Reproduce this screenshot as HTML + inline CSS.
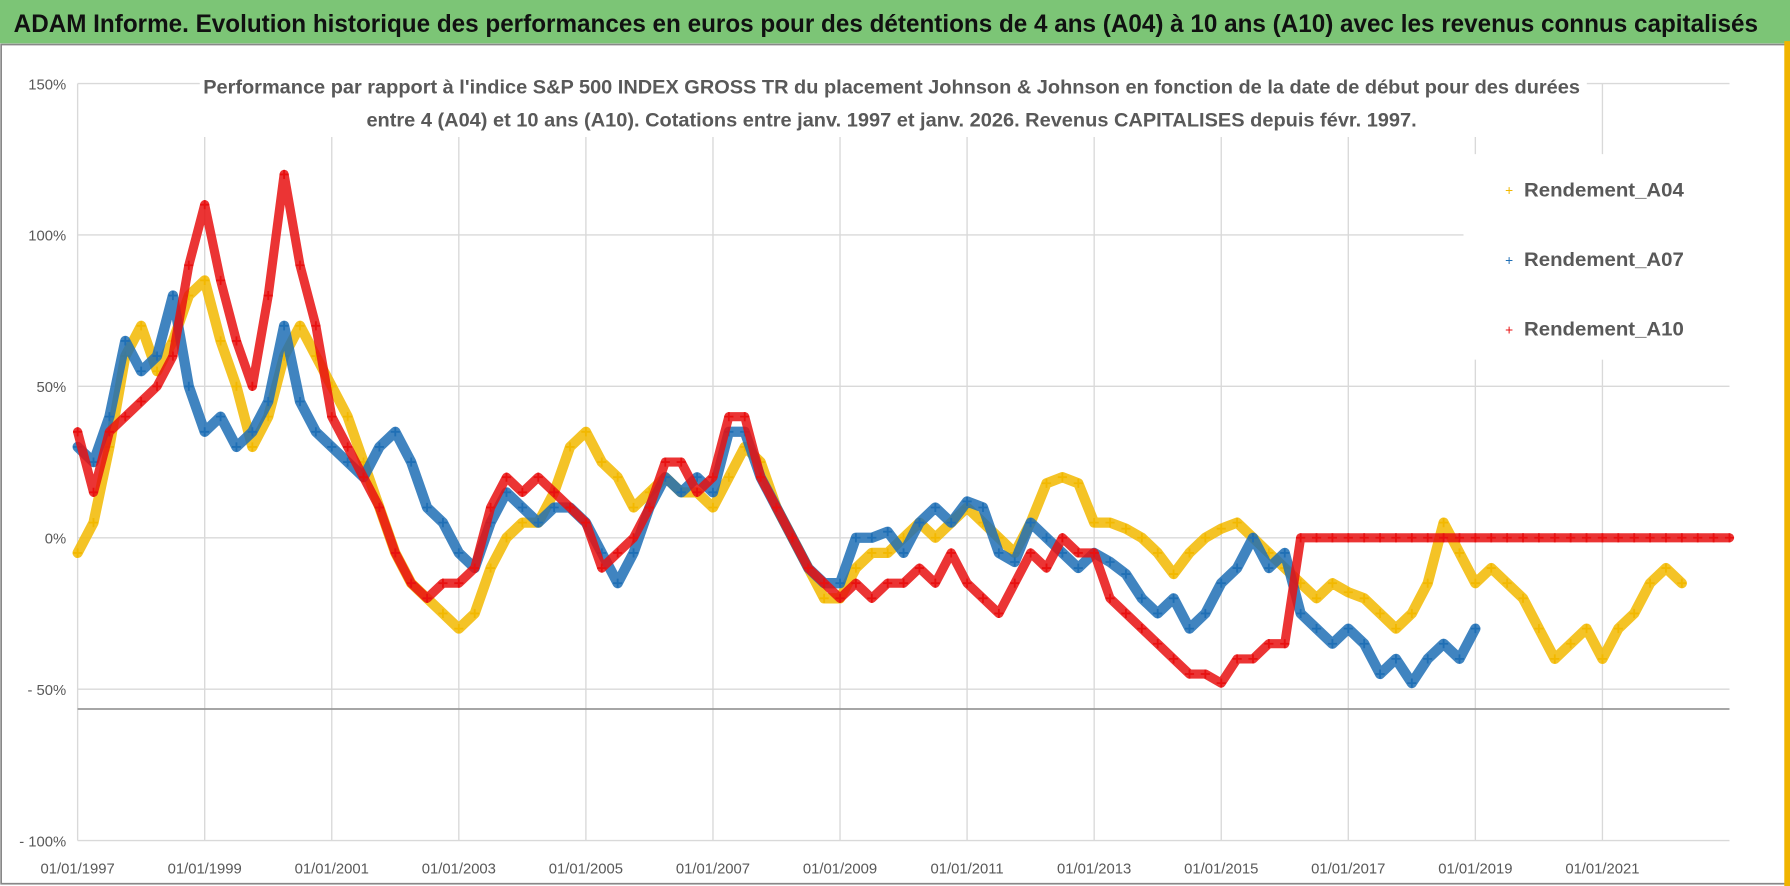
<!DOCTYPE html>
<html><head><meta charset="utf-8">
<style>
html,body{margin:0;padding:0;background:#fff;width:1790px;height:886px;overflow:hidden}
svg{display:block}
text{font-family:"Liberation Sans",sans-serif}
</style></head>
<body>
<svg id="chart" width="1790" height="886" viewBox="0 0 1568 776" preserveAspectRatio="none" xmlns="http://www.w3.org/2000/svg">
<rect x="0" y="0" width="1568" height="776" fill="#fff"/>
<rect x="0" y="0" width="1568" height="38" fill="#7cc576"/>
<text x="12" y="28" font-size="22" font-weight="bold" fill="#111" textLength="1528" lengthAdjust="spacingAndGlyphs">ADAM Informe. Evolution historique des performances en euros pour des détentions de 4 ans (A04) à 10 ans (A10) avec les revenus connus capitalisés</text>
<rect x="1" y="39" width="1563" height="735" fill="none" stroke="#888" stroke-width="1.5"/>
<rect x="1563" y="36" width="5" height="740" fill="#f0b400"/>
<g id="grid"></g>
<line x1="68" y1="621" x2="1515" y2="621" stroke="#999" stroke-width="1.5"/>
<g id="series"></g>
<rect x="175" y="58" width="1215" height="62" fill="#fff"/>
<text x="178" y="82" font-size="17" font-weight="bold" fill="#595959" textLength="1206" lengthAdjust="spacingAndGlyphs">Performance par rapport à l'indice S&amp;P 500 INDEX GROSS TR  du placement Johnson &amp; Johnson en fonction de la date de début pour des durées</text>
<text x="321" y="111" font-size="17" font-weight="bold" fill="#595959" textLength="920" lengthAdjust="spacingAndGlyphs">entre 4 (A04) et 10 ans (A10).  Cotations entre janv. 1997 et janv. 2026. Revenus CAPITALISES depuis févr. 1997.</text>
<g>
<rect x="1282" y="135" width="233" height="180" fill="#fff"/>
<g><text x="1322" y="171" font-size="12" fill="#f2b800" text-anchor="middle">+</text><text x="1335" y="172" font-size="17" font-weight="bold" fill="#595959" textLength="140" lengthAdjust="spacingAndGlyphs">Rendement_A04</text></g>
<g><text x="1322" y="232" font-size="12" fill="#1f6fb5" text-anchor="middle">+</text><text x="1335" y="233" font-size="17" font-weight="bold" fill="#595959" textLength="140" lengthAdjust="spacingAndGlyphs">Rendement_A07</text></g>
<g><text x="1322" y="293" font-size="12" fill="#e81010" text-anchor="middle">+</text><text x="1335" y="294" font-size="17" font-weight="bold" fill="#595959" textLength="140" lengthAdjust="spacingAndGlyphs">Rendement_A10</text></g>
</g>
<g id="axes"></g>
</svg>
<script>
const yTicks=[150,100,50,0,-50,-100];
const yTickLabels=["150%","100%","50%","0%","- 50%","- 100%"];
const xTickYears=[1997,1999,2001,2003,2005,2007,2009,2011,2013,2015,2017,2019,2021];
const xTickLabels=["01/01/1997","01/01/1999","01/01/2001","01/01/2003","01/01/2005","01/01/2007","01/01/2009","01/01/2011","01/01/2013","01/01/2015","01/01/2017","01/01/2019","01/01/2021"];
const startYear=1997;
const stepYears=0.25;
const a04=[-5,5,30,60,70,55,65,80,85,65,50,30,40,60,70,60,50,40,25,10,-5,-15,-20,-25,-30,-25,-10,0,5,5,15,30,35,25,20,10,15,20,15,15,10,20,30,25,10,0,-10,-20,-20,-10,-5,-5,0,5,0,5,10,5,0,-5,5,18,20,18,5,5,3,0,-5,-12,-5,0,3,5,0,-5,-10,-15,-20,-15,-18,-20,-25,-30,-25,-15,5,-5,-15,-10,-15,-20,-30,-40,-35,-30,-40,-30,-25,-15,-10,-15];
const a07=[30,25,40,65,55,60,80,50,35,40,30,35,45,70,45,35,30,25,20,30,35,25,10,5,-5,-10,5,15,10,5,10,10,5,-5,-15,-5,10,20,15,20,15,35,35,20,10,0,-10,-15,-15,0,0,2,-5,5,10,5,12,10,-5,-8,5,0,-5,-10,-5,-8,-12,-20,-25,-20,-30,-25,-15,-10,0,-10,-5,-25,-30,-35,-30,-35,-45,-40,-48,-40,-35,-40,-30];
const a10=[35,15,35,40,45,50,60,90,110,85,65,50,80,120,90,70,40,30,20,10,-5,-15,-20,-15,-15,-10,10,20,15,20,15,10,5,-10,-5,0,10,25,25,15,20,40,40,20,10,0,-10,-15,-20,-15,-20,-15,-15,-10,-15,-5,-15,-20,-25,-15,-5,-10,0,-5,-5,-20,-25,-30,-35,-40,-45,-45,-48,-40,-40,-35,-35,0,0,0,0,0,0,0,0,0,0,0,0,0,0,0,0,0,0,0,0,0,0,0,0,0,0,0,0];
const NS="http://www.w3.org/2000/svg";
const X=yr=>68+(yr-1997)*(1515-68)/26;
const Y=v=>471-v*(132.6/50);
function mk(tag,attrs,parent){const e=document.createElementNS(NS,tag);for(const k in attrs)e.setAttribute(k,attrs[k]);parent.appendChild(e);return e;}
const grid=document.getElementById('grid'),axes=document.getElementById('axes'),ser=document.getElementById('series');
yTicks.forEach((v,i)=>{
  const l=mk('line',{x1:68,x2:1515,y1:Y(v),y2:Y(v),stroke:'#d9d9d9','stroke-width':1.2},grid);
  
  
  const t=mk('text',{x:58,y:Y(v)+5,'font-size':13,fill:'#595959','text-anchor':'end'},axes);
  t.textContent=yTickLabels[i];
  
  
});
xTickYears.forEach((yr,i)=>{
  const l=mk('line',{x1:X(yr),x2:X(yr),y1:Y(150),y2:Y(-100),stroke:'#d9d9d9','stroke-width':1.2},grid);
  
  
  const t=mk('text',{x:X(yr),y:765,'font-size':13,fill:'#595959','text-anchor':'middle'},axes);
  t.textContent=xTickLabels[i];
  
  
});
function drawSeries(vals,color,name,w){
  const g=mk('g',{},ser);
  
  
  const pts=vals.map((v,i)=>[X(startYear+i*stepYears),Y(v)]);
  mk('polyline',{points:pts.map(p=>p.join(',')).join(' '),fill:'none',stroke:color,'stroke-width':w,'stroke-linejoin':'round','stroke-linecap':'round','stroke-opacity':0.85},g);
  let d='';
  pts.forEach(p=>{d+=`M${p[0]-4},${p[1]}h8M${p[0]},${p[1]-4}v8`;});
  mk('path',{d:d,stroke:color,'stroke-width':1.6,fill:'none'},g);
}
drawSeries(a04,'#f2b800','series-a04',9);
drawSeries(a07,'#1f6fb5','series-a07',9);
drawSeries(a10,'#e81010','series-a10',8);
</script>
</body></html>
